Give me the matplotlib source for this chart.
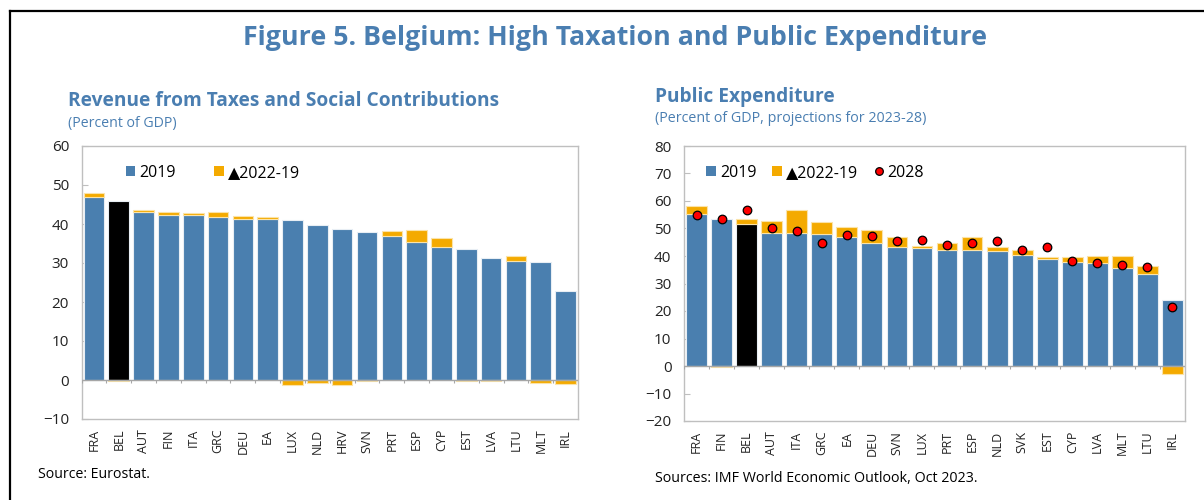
import matplotlib
matplotlib.use("Agg")
import matplotlib.pyplot as plt
from matplotlib.patches import Patch
from matplotlib.lines import Line2D
import numpy as np

plt.rcParams['font.family'] = ['Open Sans', 'DejaVu Sans']

# ---------------- data ----------------
rev_countries = ["FRA", "BEL", "AUT", "FIN", "ITA", "GRC", "DEU", "EA", "LUX", "NLD",
                 "HRV", "SVN", "PRT", "ESP", "CYP", "EST", "LVA", "LTU", "MLT", "IRL"]
rev_2019 = [47.0, 45.9, 43.2, 42.3, 42.3, 41.8, 41.4, 41.3, 40.9, 39.7,
            38.7, 38.0, 36.8, 35.5, 34.2, 33.5, 31.2, 30.5, 30.3, 22.8]
rev_change = [1.0, -0.2, 0.4, 0.8, 0.5, 1.3, 0.7, 0.6, -1.2, -0.7,
              -1.4, -0.2, 1.3, 2.9, 2.3, -0.3, -0.3, 1.4, -0.7, -1.0]

exp_countries = ["FRA", "FIN", "BEL", "AUT", "ITA", "GRC", "EA", "DEU", "SVN", "LUX",
                 "PRT", "ESP", "NLD", "SVK", "EST", "CYP", "LVA", "MLT", "LTU", "IRL"]
exp_2019 = [55.3, 53.3, 51.8, 48.5, 48.4, 48.0, 46.8, 44.8, 43.3, 43.0,
            42.3, 42.3, 41.9, 40.4, 39.0, 37.9, 37.6, 35.6, 33.6, 24.1]
exp_change = [2.9, -0.2, 1.7, 4.2, 8.2, 4.4, 3.6, 4.6, 3.6, 0.6,
              2.3, 4.7, 1.5, 1.8, 0.6, 1.8, 2.5, 4.4, 2.8, -3.0]
exp_2028 = [54.9, 53.3, 56.6, 50.2, 49.1, 44.6, 47.8, 47.2, 45.5, 45.9,
            44.1, 44.6, 45.6, 42.1, 43.2, 38.2, 37.3, 36.6, 35.9, 21.5]

highlight = "BEL"

# ---------------- style ----------------
BLUE = "#4A7FAF"
ORANGE = "#F4AA00"
TITLE_BLUE = "#4A7EB1"
GRID_GRAY = "#BFBFBF"
TEXT = "#222222"

fig = plt.figure(figsize=(12.04, 5.0), dpi=100)


def draw_panel(ax, cats, base, change, ylim, yticks, dots=None):
    x = np.arange(len(cats))
    base = np.asarray(base, dtype=float)
    change = np.asarray(change, dtype=float)
    colors = ["black" if c == highlight else BLUE for c in cats]
    ax.bar(x, base, width=0.83, color=colors, edgecolor="#E8EEF4", linewidth=0.8, zorder=2)
    bottoms = np.where(change >= 0, base, 0.0)
    ax.bar(x, change, width=0.83, bottom=bottoms, color=ORANGE, edgecolor="#FBE3A8",
           linewidth=0.8, zorder=2)
    if dots is not None:
        ax.scatter(x, dots, s=38, color="#FF0000", edgecolor="black", linewidth=0.9, zorder=4)
    ax.set_xlim(-0.5, len(cats) - 0.5)
    ax.set_ylim(*ylim)
    ax.set_yticks(yticks)
    ax.set_xticks(x)
    ax.set_xticklabels(cats, rotation=90, fontsize=9, color=TEXT)
    ax.tick_params(axis="x", length=0, pad=7)
    ax.tick_params(axis="y", direction="in", length=4, color=GRID_GRAY, labelsize=11,
                   labelcolor=TEXT, pad=9)
    for s in ax.spines.values():
        s.set_color(GRID_GRAY)
        s.set_linewidth(1.0)
    ax.axhline(0, color="#A6A6A6", linewidth=1.0, zorder=3)
    # small category separator ticks on zero line
    bounds = np.arange(len(cats) + 1) - 0.5
    span = ylim[1] - ylim[0]
    ax.vlines(bounds, 0, -span * 0.012, color="#A6A6A6", linewidth=0.8, zorder=3)


# left panel
axL = fig.add_axes([0.0677, 0.162, 0.4124, 0.546])
draw_panel(axL, rev_countries, rev_2019, rev_change, (-10, 60), np.arange(-10, 61, 10))
hL = [Patch(facecolor=BLUE, edgecolor="none"), Patch(facecolor=ORANGE, edgecolor="none")]
axL.legend(hL, ["2019", "\u25B22022-19"], loc="upper left", bbox_to_anchor=(0.076, 0.955),
           ncol=2, frameon=False, fontsize=11.5, handlelength=0.6, handleheight=0.6,
           handletextpad=0.25, columnspacing=2.4, borderaxespad=0)

# right panel
axR = fig.add_axes([0.5681, 0.158, 0.4161, 0.55])
draw_panel(axR, exp_countries, exp_2019, exp_change, (-20, 80), np.arange(-20, 81, 10),
           dots=exp_2028)
hR = [Patch(facecolor=BLUE, edgecolor="none"), Patch(facecolor=ORANGE, edgecolor="none"),
      Line2D([], [], marker="o", linestyle="none", markersize=5.5,
             markerfacecolor="#FF0000", markeredgecolor="black", markeredgewidth=0.9)]
axR.legend(hR, ["2019", "\u25B22022-19", "2028"], loc="upper left",
           bbox_to_anchor=(0.032, 0.955), ncol=3, frameon=False, fontsize=11.5,
           handlelength=0.6, handleheight=0.6, handletextpad=0.25, columnspacing=1.0,
           borderaxespad=0)

# titles and texts
fig.text(615 / 1204, 1 - 38 / 500, "Figure 5. Belgium: High Taxation and Public Expenditure",
         ha="center", va="center", fontsize=19.3, fontweight="bold", color=TITLE_BLUE)
fig.text(68 / 1204, 1 - 101 / 500, "Revenue from Taxes and Social Contributions",
         ha="left", va="center", fontsize=13.8, fontweight="bold", color=TITLE_BLUE)
fig.text(68 / 1204, 1 - 124 / 500, "(Percent of GDP)", ha="left", va="center",
         fontsize=10.2, color=TITLE_BLUE)
fig.text(655 / 1204, 1 - 97 / 500, "Public Expenditure", ha="left", va="center",
         fontsize=13.8, fontweight="bold", color=TITLE_BLUE)
fig.text(655 / 1204, 1 - 118 / 500, "(Percent of GDP, projections for 2023-28)",
         ha="left", va="center", fontsize=10.3, color=TITLE_BLUE)
fig.text(38 / 1204, 1 - 475 / 500, "Source: Eurostat.", ha="left", va="center",
         fontsize=10.2, color="black")
fig.text(655 / 1204, 1 - 478 / 500, "Sources: IMF World Economic Outlook, Oct 2023.",
         ha="left", va="center", fontsize=10.3, color="black")

# outer border (top and left)
fig.add_artist(Line2D([10 / 1204, 10 / 1204], [0, 1 - 11 / 500], color="black",
                      linewidth=1.6, transform=fig.transFigure))
fig.add_artist(Line2D([10 / 1204, 1], [1 - 11 / 500, 1 - 11 / 500], color="black",
                      linewidth=1.6, transform=fig.transFigure))

fig.savefig("out.png", dpi=100)
